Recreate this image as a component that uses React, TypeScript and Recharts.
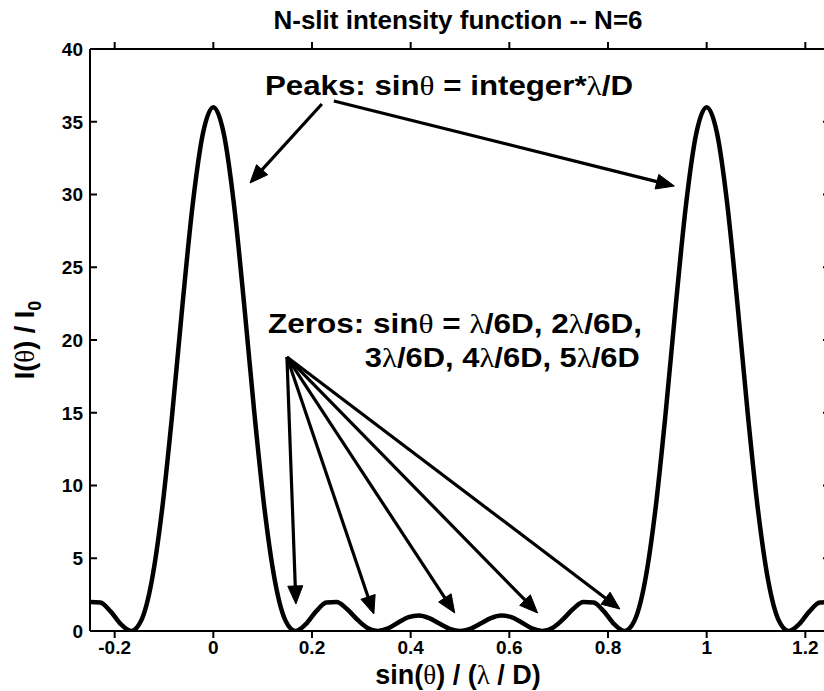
import React from 'react';
import { LineChart, Line, XAxis, YAxis, ReferenceLine, ReferenceDot } from 'recharts';

const chartTitle = 'N-slit intensity function -- N=6';

const xValues = [
  -0.25, -0.2292, -0.2083, -0.1875, -0.1667, -0.1458, -0.125, -0.1042, -0.0833, -0.0625, -0.0417, -0.0208,
  0, 0.0208, 0.0417, 0.0625, 0.0833, 0.1042, 0.125, 0.1458, 0.1667, 0.1875, 0.2083, 0.2292,
  0.25, 0.2708, 0.2917, 0.3125, 0.3333, 0.3542, 0.375, 0.3958, 0.4167, 0.4375, 0.4583, 0.4792,
  0.5, 0.5208, 0.5417, 0.5625, 0.5833, 0.6042, 0.625, 0.6458, 0.6667, 0.6875, 0.7083, 0.7292,
  0.75, 0.7708, 0.7917, 0.8125, 0.8333, 0.8542, 0.875, 0.8958, 0.9167, 0.9375, 0.9583, 0.9792,
  1, 1.0208, 1.0417, 1.0625, 1.0833, 1.1042, 1.125, 1.1458, 1.1667, 1.1875, 1.2083, 1.2292, 1.25,
];

const intensityValues = [
  2.0, 1.96, 1.35, 0.47, 0, 0.75, 3.41, 8.26, 14.93, 22.43, 29.35, 34.24,
  36, 34.24, 29.35, 22.43, 14.93, 8.26, 3.41, 0.75, 0, 0.47, 1.35, 1.96,
  2.0, 1.51, 0.79, 0.21, 0, 0.18, 0.59, 0.95, 1.07, 0.89, 0.51, 0.15,
  0, 0.15, 0.51, 0.89, 1.07, 0.95, 0.59, 0.18, 0, 0.21, 0.79, 1.51,
  2.0, 1.96, 1.35, 0.47, 0, 0.75, 3.41, 8.26, 14.93, 22.43, 29.35, 34.24,
  36, 34.24, 29.35, 22.43, 14.93, 8.26, 3.41, 0.75, 0, 0.47, 1.35, 1.96, 2.0,
];

const xTicks = [-0.2, 0, 0.2, 0.4, 0.6, 0.8, 1, 1.2];
const yTicks = [0, 5, 10, 15, 20, 25, 30, 35, 40];
const xDomain = [-0.25, 1.25];
const yDomain = [0, 40];

// annotation anchors (data coordinates)
const peakArrows = [
  { from: { x: 0.22, y: 36.22 }, to: { x: 0.0743, y: 30.79 } },
  { from: { x: 0.2443, y: 36.43 }, to: { x: 0.9346, y: 30.58 } },
];
const zeroArrowStart = { x: 0.1492, y: 18.83 };
const zeroArrowTips = [
  { x: 0.1674, y: 1.86 },
  { x: 0.3253, y: 1.17 },
  { x: 0.4893, y: 1.24 },
  { x: 0.6573, y: 1.24 },
  { x: 0.8241, y: 1.51 },
];
const peaksTextAnchor = { x: 0.1047, y: 36.84 };
const zerosLine1Anchor = { x: 0.1107, y: 20.48 };
const zerosLine2Anchor = { x: 0.3071, y: 18.14 };

const data = xValues.map((x, i) => ({ x, I: intensityValues[i] }));

const FONT = '"Liberation Sans", Arial, Helvetica, sans-serif';
const GREEK = '"Liberation Serif", "DejaVu Serif", serif';

const TICK_PX = 7;

function Arrow(props: any) {
  const { x1, y1, x2, y2 } = props;
  const dx = x2 - x1;
  const dy = y2 - y1;
  const len = Math.hypot(dx, dy) || 1;
  const ux = dx / len;
  const uy = dy / len;
  const L = 18;
  const W = 7.5;
  const bx = x2 - ux * L;
  const by = y2 - uy * L;
  const px = -uy;
  const py = ux;
  return (
    <g>
      <line x1={x1} y1={y1} x2={bx + ux * 3} y2={by + uy * 3} stroke="#000" strokeWidth={3.2} />
      <polygon
        points={`${x2},${y2} ${bx + px * W},${by + py * W} ${bx - px * W},${by - py * W}`}
        fill="#000"
        stroke="#000"
        strokeWidth={1}
      />
    </g>
  );
}

// Tick marks drawn inward from the plot frame, located by the axis scale (x-position or y-position)
function VTick(props: any) {
  const { x1, y1, y2 } = props;
  return (
    <g>
      <rect x={x1 - 1} y={y1} width={2} height={TICK_PX} fill="#000" />
      <rect x={x1 - 1} y={y2 - TICK_PX} width={2} height={TICK_PX} fill="#000" />
    </g>
  );
}

function HTick(props: any) {
  const { x1, y1, x2 } = props;
  return (
    <g>
      <rect x={x1} y={y1 - 1} width={TICK_PX} height={2} fill="#000" />
      <rect x={x2 - TICK_PX} y={y1 - 1} width={TICK_PX} height={2} fill="#000" />
    </g>
  );
}

const greek = { fontFamily: GREEK, fontWeight: 400 } as const;

function PeaksText(p: any) {
  return (
    <text x={p.cx} y={p.cy} fontSize={27} fontWeight={700} fontFamily={FONT} fill="#000"
      textLength={368} lengthAdjust="spacingAndGlyphs">
      Peaks: sin<tspan {...greek}>θ</tspan> = integer*<tspan {...greek}>λ</tspan>/D
    </text>
  );
}

function ZerosLine1(p: any) {
  return (
    <text x={p.cx} y={p.cy} fontSize={27} fontWeight={700} fontFamily={FONT} fill="#000"
      textLength={374} lengthAdjust="spacingAndGlyphs">
      Zeros: sin<tspan {...greek}>θ</tspan> = <tspan {...greek}>λ</tspan>/6D, 2<tspan {...greek}>λ</tspan>/6D,
    </text>
  );
}

function ZerosLine2(p: any) {
  return (
    <text x={p.cx} y={p.cy} fontSize={27} fontWeight={700} fontFamily={FONT} fill="#000"
      textLength={275} lengthAdjust="spacingAndGlyphs">
      3<tspan {...greek}>λ</tspan>/6D, 4<tspan {...greek}>λ</tspan>/6D, 5<tspan {...greek}>λ</tspan>/6D
    </text>
  );
}

const TitleLabel = () => (
  <text x={458} y={29} textAnchor="middle" fontSize={26} fontWeight={700} fontFamily={FONT} fill="#000">
    {chartTitle}
  </text>
);

const XLabel = () => (
  <text x={458} y={684} textAnchor="middle" fontSize={27} fontWeight={700} fontFamily={FONT} fill="#000">
    sin(<tspan {...greek}>θ</tspan>) / (<tspan {...greek}>λ</tspan> / D)
  </text>
);

const YLabel = () => (
  <text transform="translate(34, 340) rotate(-90)" textAnchor="middle" fontSize={27} fontWeight={700}
    fontFamily={FONT} fill="#000">
    I(<tspan {...greek}>θ</tspan>) / I<tspan fontSize={18} dy={7}>0</tspan>
  </text>
);

const labelStyle = { fontSize: 19, fontWeight: 700, fill: '#000', fontFamily: FONT };
const axisLineStyle = { stroke: '#000', strokeWidth: 2 };

function BottomTick(p: any) {
  const { x, y, payload } = p;
  return (
    <text x={x} y={y + 23} textAnchor="middle" {...labelStyle}>{String(payload.value)}</text>
  );
}

function LeftTick(p: any) {
  const { x, y, payload } = p;
  return (
    <text x={x - 7} y={y} dy="0.36em" textAnchor="end" {...labelStyle}>{String(payload.value)}</text>
  );
}

export default function App() {
  return (
    <div
      style={{
        position: 'absolute',
        left: 0,
        top: 0,
        width: 824,
        height: 691,
        overflow: 'hidden',
        background: '#fff',
        fontFamily: FONT,
      }}
    >
      <LineChart width={850} height={691} data={data} margin={{ top: 48, right: 19, bottom: 0, left: 0 }}>
        <XAxis
          dataKey="x"
          type="number"
          domain={xDomain}
          ticks={xTicks}
          interval={0}
          allowDataOverflow
          height={60}
          tickSize={0}
          tickMargin={0}
          tickLine={false}
          tick={BottomTick}
          axisLine={axisLineStyle}
          label={{ content: XLabel }}
        />
        <XAxis
          xAxisId="top"
          orientation="top"
          dataKey="x"
          type="number"
          domain={xDomain}
          ticks={xTicks}
          allowDataOverflow
          height={1}
          tickLine={false}
          tick={false}
          axisLine={axisLineStyle}
          label={{ content: TitleLabel }}
        />
        <YAxis
          type="number"
          domain={yDomain}
          ticks={yTicks}
          interval={0}
          allowDataOverflow
          width={90}
          tickSize={0}
          tickMargin={0}
          tickLine={false}
          tick={LeftTick}
          axisLine={axisLineStyle}
          label={{ content: YLabel }}
        />
        <YAxis
          yAxisId="right"
          orientation="right"
          type="number"
          domain={yDomain}
          ticks={yTicks}
          allowDataOverflow
          width={1}
          tickLine={false}
          tick={false}
          axisLine={axisLineStyle}
        />
        {xTicks.map((t) => (
          <ReferenceLine key={`xt${t}`} x={t} shape={VTick} />
        ))}
        {yTicks.map((t) => (
          <ReferenceLine key={`yt${t}`} y={t} shape={HTick} />
        ))}
        <Line
          type="monotone"
          dataKey="I"
          stroke="#000"
          strokeWidth={4.5}
          strokeLinejoin="round"
          dot={false}
          activeDot={false}
          isAnimationActive={false}
        />
        {peakArrows.map((a, i) => (
          <ReferenceLine key={`pa${i}`} segment={[a.from, a.to]} shape={Arrow} />
        ))}
        {zeroArrowTips.map((t, i) => (
          <ReferenceLine key={`za${i}`} segment={[zeroArrowStart, t]} shape={Arrow} />
        ))}
        <ReferenceDot x={peaksTextAnchor.x} y={peaksTextAnchor.y} shape={PeaksText} />
        <ReferenceDot x={zerosLine1Anchor.x} y={zerosLine1Anchor.y} shape={ZerosLine1} />
        <ReferenceDot x={zerosLine2Anchor.x} y={zerosLine2Anchor.y} shape={ZerosLine2} />
      </LineChart>
    </div>
  );
}
